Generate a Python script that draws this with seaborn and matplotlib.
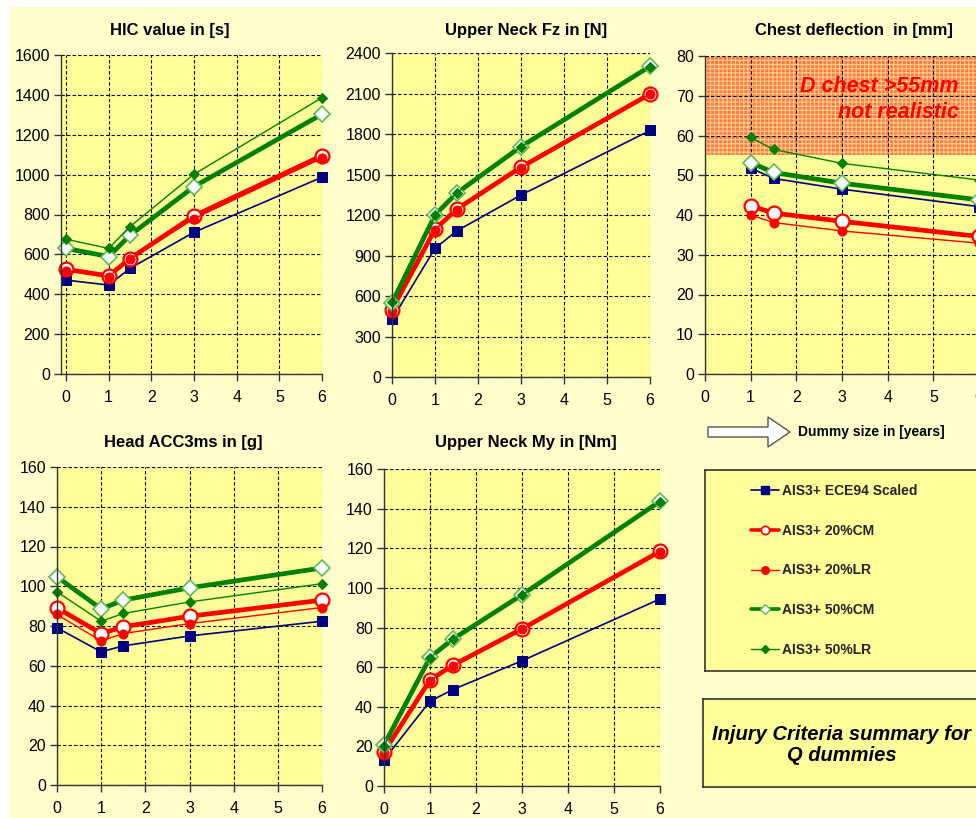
import matplotlib
matplotlib.use("Agg")
import matplotlib.pyplot as plt
import seaborn as sns
import pandas as pd
from matplotlib.lines import Line2D
from matplotlib.patches import Rectangle, Polygon

# ---- data -------------------------------------------------------------
sizes = [0, 1, 1.5, 3, 6]          # dummy size in years
chest_sizes = [1, 1.5, 3, 6]

series = ["AIS3+ ECE94 Scaled", "AIS3+ 20%CM", "AIS3+ 20%LR",
          "AIS3+ 50%CM", "AIS3+ 50%LR"]

hic_ece94 = [471, 446, 530, 711, 987]
hic_20cm = [525, 492, 579, 793, 1095]
hic_20lr = [518, 488, 575, 779, 1082]
hic_50cm = [630, 589, 696, 940, 1303]
hic_50lr = [676, 630, 739, 1002, 1386]

fz_ece94 = [426, 953, 1081, 1348, 1826]
fz_20cm = [500, 1094, 1242, 1554, 2096]
fz_20lr = [492, 1090, 1238, 1550, 2094]
fz_50cm = [549, 1200, 1361, 1707, 2301]
fz_50lr = [553, 1198, 1363, 1705, 2299]

chest_ece94 = [51.8, 49.2, 46.5, 42.1]
chest_20cm = [42.3, 40.5, 38.4, 34.6]
chest_20lr = [40.0, 38.1, 36.0, 32.9]
chest_50cm = [53.2, 50.7, 48.0, 43.8]
chest_50lr = [59.5, 56.5, 53.0, 48.8]

acc_ece94 = [79.1, 67.0, 70.0, 75.0, 82.4]
acc_20cm = [89.1, 76.2, 79.6, 84.9, 93.0]
acc_20lr = [85.8, 72.5, 76.2, 81.2, 89.3]
acc_50cm = [104.7, 88.6, 93.0, 99.2, 109.2]
acc_50lr = [97.2, 82.4, 86.3, 92.1, 101.3]

my_ece94 = [13.3, 42.8, 48.7, 63.2, 94.4]
my_20cm = [17.2, 53.5, 61.0, 79.3, 118.4]
my_20lr = [16.8, 53.2, 60.8, 79.0, 118.2]
my_50cm = [20.6, 64.9, 74.2, 96.5, 143.7]
my_50lr = [20.4, 64.7, 74.0, 96.3, 143.5]

panel_titles = ["HIC value in [s]", "Upper Neck Fz in [N]",
                "Chest deflection  in [mm]", "Head ACC3ms in [g]",
                "Upper Neck My in [Nm]"]

panel_values = {
    "HIC value in [s]": (sizes, [hic_ece94, hic_20cm, hic_20lr, hic_50cm, hic_50lr]),
    "Upper Neck Fz in [N]": (sizes, [fz_ece94, fz_20cm, fz_20lr, fz_50cm, fz_50lr]),
    "Chest deflection  in [mm]": (chest_sizes, [chest_ece94, chest_20cm, chest_20lr,
                                               chest_50cm, chest_50lr]),
    "Head ACC3ms in [g]": (sizes, [acc_ece94, acc_20cm, acc_20lr, acc_50cm, acc_50lr]),
    "Upper Neck My in [Nm]": (sizes, [my_ece94, my_20cm, my_20lr, my_50cm, my_50lr]),
}

rows = []
for panel, (xs, groups) in panel_values.items():
    for name, vals in zip(series, groups):
        for x, v in zip(xs, vals):
            rows.append({"panel": panel, "series": name, "size": x, "value": v})
df = pd.DataFrame(rows)

# ---- styles -----------------------------------------------------------
NAVY = "#000080"
RED = "#FF0000"
GREEN = "#008000"
styles = {
    "AIS3+ ECE94 Scaled": dict(color=NAVY, linewidth=1.2, marker="s", markersize=7.5,
                               markerfacecolor=NAVY, markeredgecolor=NAVY),
    "AIS3+ 20%CM": dict(color=RED, linewidth=3.4, marker="o", markersize=10,
                        markerfacecolor="white", markeredgecolor=RED, markeredgewidth=1.6),
    "AIS3+ 20%LR": dict(color=RED, linewidth=1.0, marker="o", markersize=6.5,
                        markerfacecolor=RED, markeredgecolor=RED),
    "AIS3+ 50%CM": dict(color=GREEN, linewidth=3.4, marker="D", markersize=8.5,
                        markerfacecolor="white", markeredgecolor="#5CB85C",
                        markeredgewidth=1.2),
    "AIS3+ 50%LR": dict(color=GREEN, linewidth=1.0, marker="D", markersize=5,
                        markerfacecolor=GREEN, markeredgecolor=GREEN),
}

# ---- figure -----------------------------------------------------------
sns.set_theme(style="white")
plt.rcParams["font.family"] = ["Liberation Sans", "DejaVu Sans"]
plt.rcParams["hatch.linewidth"] = 0.8

W, H = 976, 818
fig = plt.figure(figsize=(W / 100, H / 100), dpi=100, facecolor="white")
fig.patches.append(Rectangle((9 / W, 0), 1, 1 - 7 / H, transform=fig.transFigure,
                             facecolor="#FFFFCC", edgecolor="none", zorder=-10))

PLOT_BG = "#FFFF99"


def px_axes(left, top, right, bottom):
    return fig.add_axes([left / W, 1 - bottom / H, (right - left) / W, (bottom - top) / H])


layout = {
    "HIC value in [s]": dict(box=(61, 55, 322, 374), xlim=(-0.117, 6), ylim=(0, 1600),
                             yticks=range(0, 1601, 200), title=(170, 30)),
    "Upper Neck Fz in [N]": dict(box=(392, 53, 650, 377), xlim=(0, 6), ylim=(0, 2400),
                                 yticks=range(0, 2401, 300), title=(526, 31)),
    "Chest deflection  in [mm]": dict(box=(705, 56, 979, 374), xlim=(0, 6), ylim=(0, 80),
                                      yticks=range(0, 81, 10), title=(854, 31)),
    "Head ACC3ms in [g]": dict(box=(57, 467, 322, 785), xlim=(0, 6), ylim=(0, 160),
                               yticks=range(0, 161, 20), title=(183, 442)),
    "Upper Neck My in [Nm]": dict(box=(384, 469, 660, 786), xlim=(0, 6), ylim=(0, 160),
                                  yticks=range(0, 161, 20), title=(526, 443)),
}

for panel in panel_titles:
    cfg = layout[panel]
    ax = px_axes(*cfg["box"])
    ax.set_facecolor(PLOT_BG)
    sub = df[df["panel"] == panel]
    for name in series:
        d = sub[sub["series"] == name]
        sns.lineplot(data=d, x="size", y="value", ax=ax, sort=False,
                     legend=False, clip_on=False, **styles[name])
    ax.set_xlim(*cfg["xlim"])
    ax.set_ylim(*cfg["ylim"])
    ax.set_xticks(range(0, 7))
    ax.set_yticks(list(cfg["yticks"]))
    ax.set_xlabel("")
    ax.set_ylabel("")
    ax.set_axisbelow(True)
    ax.grid(True, color="black", linestyle=(0, (3, 2)), linewidth=0.8)
    for s in ("top", "right"):
        ax.spines[s].set_visible(False)
    for s in ("left", "bottom"):
        ax.spines[s].set_color("#333333")
        ax.spines[s].set_linewidth(1.0)
    ax.tick_params(direction="out", length=5, width=1, color="#333333",
                   labelsize=11.5, labelcolor="black", left=True, bottom=True)
    ax.tick_params(axis="y", pad=3)
    ax.tick_params(axis="x", pad=6.5)
    tx, ty = cfg["title"]
    fig.text(tx / W, 1 - ty / H, panel, ha="center", va="center",
             fontsize=12, fontweight="bold", color="black")

    if panel.startswith("Chest"):
        ax.axhspan(55, 80, facecolor="#FF7A45", edgecolor="#FFD08A",
                   hatch="++++", linewidth=0, zorder=0.2)
        fig.text(959 / W, 1 - 86 / H, "D chest >55mm", ha="right", va="center",
                 fontsize=15.5, fontweight="bold", fontstyle="italic", color=RED)
        fig.text(959 / W, 1 - 112 / H, "not realistic", ha="right", va="center",
                 fontsize=15.5, fontweight="bold", fontstyle="italic", color=RED)

# size arrow
arrow_px = [(708, 427), (768, 427), (768, 417), (790, 432), (768, 447),
            (768, 437), (708, 437)]
fig.patches.append(Polygon([(x / W, 1 - y / H) for x, y in arrow_px], closed=True,
                           transform=fig.transFigure, facecolor="white",
                           edgecolor="#555555", linewidth=1.0))
fig.text(798 / W, 1 - 432 / H, "Dummy size in [years]", ha="left", va="center",
         fontsize=10, fontweight="bold", color="black")

# legend box
leg_ax = px_axes(705, 470, 1000, 671)
leg_ax.set_facecolor(PLOT_BG)
leg_ax.set_xticks([])
leg_ax.set_yticks([])
for s in leg_ax.spines.values():
    s.set_color("#333333")
    s.set_linewidth(1.2)
leg_styles = {
    "AIS3+ ECE94 Scaled": dict(color=NAVY, linewidth=1.2, marker="s", markersize=6,
                               markerfacecolor=NAVY, markeredgecolor=NAVY),
    "AIS3+ 20%CM": dict(color=RED, linewidth=2.6, marker="o", markersize=6,
                        markerfacecolor="white", markeredgecolor=RED, markeredgewidth=1.2),
    "AIS3+ 20%LR": dict(color=RED, linewidth=1.0, marker="o", markersize=5.5,
                        markerfacecolor=RED, markeredgecolor=RED),
    "AIS3+ 50%CM": dict(color=GREEN, linewidth=2.6, marker="D", markersize=5,
                        markerfacecolor="white", markeredgecolor="#5CB85C",
                        markeredgewidth=1.0),
    "AIS3+ 50%LR": dict(color=GREEN, linewidth=1.0, marker="D", markersize=4.5,
                        markerfacecolor=GREEN, markeredgecolor=GREEN),
}
handles = [Line2D([], [], **leg_styles[n]) for n in series]
lw_px, lh_px = 295, 201
leg = leg_ax.legend(handles, series, loc="upper left",
                    bbox_to_anchor=((751 - 705) / lw_px, 1 - (484 - 470) / lh_px),
                    frameon=False, borderpad=0, borderaxespad=0,
                    handlelength=2.0, handletextpad=0.25, labelspacing=1.85,
                    prop=dict(size=10, weight="bold"))

# note box
note_ax = px_axes(703, 699, 1000, 787)
note_ax.set_facecolor(PLOT_BG)
note_ax.set_xticks([])
note_ax.set_yticks([])
for s in note_ax.spines.values():
    s.set_color("#333333")
    s.set_linewidth(1.2)
fig.text(842 / W, 1 - 745 / H, "Injury Criteria summary for\nQ dummies",
         ha="center", va="center", fontsize=14.5, fontweight="bold",
         fontstyle="italic", color="black", linespacing=1.15)

fig.savefig("out.png", dpi=100, facecolor=fig.get_facecolor())
